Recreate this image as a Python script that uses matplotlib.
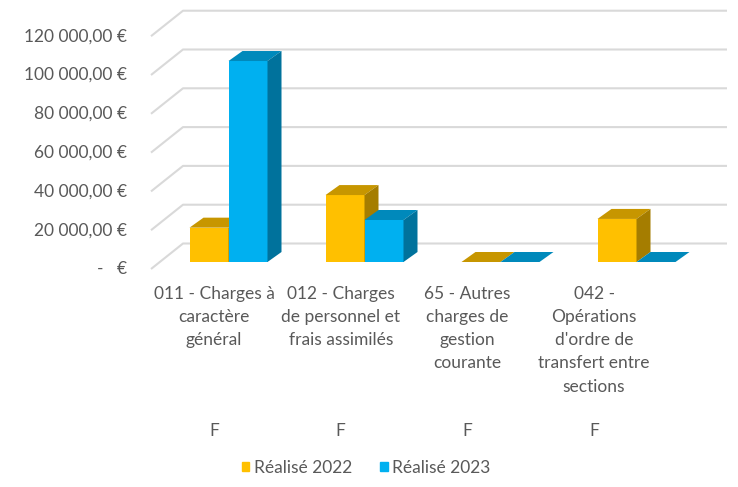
import matplotlib
matplotlib.use('Agg')
import matplotlib.pyplot as plt
from matplotlib.patches import Polygon

# data
categories = [
    "011 - Charges à\ncaractère\ngénéral",
    "012 - Charges\nde personnel et\nfrais assimilés",
    "65 - Autres\ncharges de\ngestion\ncourante",
    "042 -\nOpérations\nd'ordre de\ntransfert entre\nsections",
]
group_label = "F"
series_names = ["Réalisé 2022", "Réalisé 2023"]
realise_2022 = [17700, 34500, 0, 22200]
realise_2023 = [103600, 21650, 0, 0]
y_ticks = [0, 20000, 40000, 60000, 80000, 100000, 120000]
y_labels = ["-   €", "20 000,00 €", "40 000,00 €", "60 000,00 €",
            "80 000,00 €", "100 000,00 €", "120 000,00 €"]

colors = ["#FFC000", "#00B0F0"]
tops = ["#C79600", "#0089BB"]
sides = ["#A57D00", "#00729C"]
text_color = "#595959"
grid_color = "#D9D9D9"

plt.rcParams['font.family'] = ['Lato', 'DejaVu Sans']

W, H = 738, 487
fig = plt.figure(figsize=(W / 100, H / 100), dpi=100)
ax = fig.add_axes([0, 0, 1, 1])

# pixel scale of the chart: one category = 136 px, 20 000 = 38.8 px
px_x = 1 / 136
px_y = 20000 / 38.8
x0_px, y0_px = 219, 269
ax.set_xlim(-x0_px * px_x, (W - x0_px) * px_x)
ax.set_ylim(-(H - y0_px) * px_y, y0_px * px_y)
ax.axis('off')

# oblique depth offsets
wall_dx, wall_dy = 32 * px_x, 25.5 * px_y
front_dx, front_dy = 9.5 * px_x, 7 * px_y
bar_dx, bar_dy = 14 * px_x, 10 * px_y
floor_left, floor_right = -0.5, 3.5
bar_w = 39 * px_x

# gridlines on the wall and side
for v in y_ticks:
    ax.plot([floor_left, floor_left + wall_dx, floor_right + wall_dx],
            [v, v + wall_dy, v + wall_dy],
            color=grid_color, lw=1.5, zorder=1, solid_capstyle='butt')
for v, lab in zip(y_ticks, y_labels):
    ax.text((127 - x0_px) * px_x, v, lab, ha='right', va='center',
            fontsize=12.5, color=text_color)

# bars, left to right
z = 2
for i in range(len(categories)):
    centre = i + front_dx
    for k, vals in enumerate([realise_2022, realise_2023]):
        left = centre - bar_w if k == 0 else centre
        right = left + bar_w
        v = vals[i]
        base = front_dy
        top = base + v
        if v > 0:
            ax.bar(left, v, width=bar_w, bottom=base, align='edge',
                   color=colors[k], zorder=z, linewidth=0)
        ax.add_patch(Polygon([(left, top), (right, top),
                              (right + bar_dx, top + bar_dy),
                              (left + bar_dx, top + bar_dy)],
                             closed=True, facecolor=tops[k], lw=0, zorder=z + 1))
        if v > 0:
            ax.add_patch(Polygon([(right, base), (right, top),
                                  (right + bar_dx, top + bar_dy),
                                  (right + bar_dx, base + bar_dy)],
                                 closed=True, facecolor=sides[k], lw=0, zorder=z + 1))
        z += 2

# category labels
for i, cat in enumerate(categories):
    cx = (214 + 126.7 * i - x0_px) * px_x
    ax.text(cx, (y0_px - 286) * px_y, cat, ha='center', va='top',
            fontsize=12.5, color=text_color, linespacing=1.55)
    ax.text(cx, (y0_px - 431) * px_y, group_label, ha='center', va='center',
            fontsize=12.5, color=text_color)

handles = [plt.Rectangle((0, 0), 1, 1, color=c) for c in colors]
fig.legend(handles, series_names, loc='center', ncol=2, frameon=False,
           bbox_to_anchor=(366 / W, 1 - 468 / H), fontsize=12.5,
           handlelength=0.45, handleheight=0.45, handletextpad=0.25,
           columnspacing=1.6, labelcolor=text_color)

fig.savefig("out.png", dpi=100)
